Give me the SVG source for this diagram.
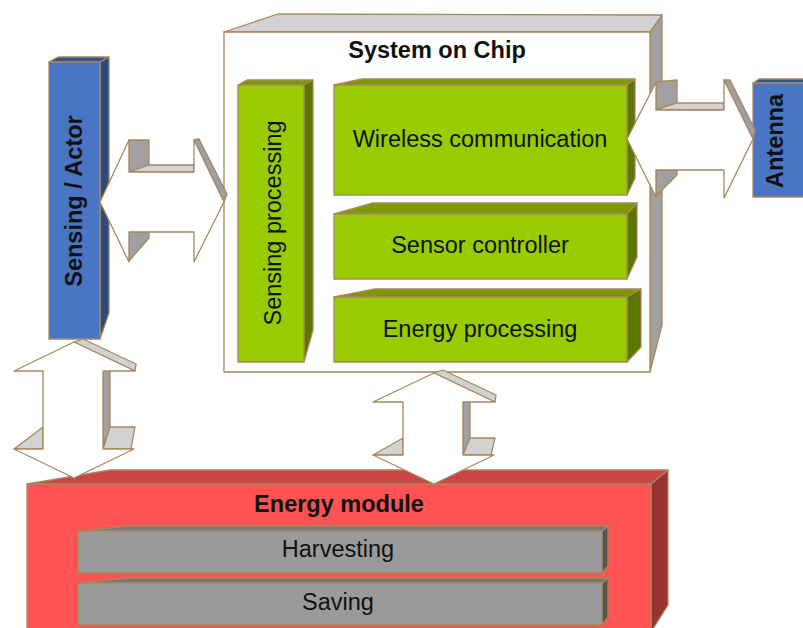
<svg xmlns="http://www.w3.org/2000/svg" width="803" height="628" viewBox="0 0 803 628">
<style>
.s{stroke:#a8875c;stroke-width:1.3;stroke-linejoin:round}
.t{font-family:"Liberation Sans",Arial,sans-serif;font-size:23.5px;fill:#111;text-anchor:middle}
.b{font-weight:bold}
.w{fill:#fff}
.dk{fill:#a0a0a0}
.lt{fill:#d2d2d2}
.gf{fill:#99cc00}.gt{fill:#7a9a00}.gs{fill:#5a7800}
.bf{fill:#4a74c4}.bt{fill:#2f5597}.bs{fill:#2a4a80}
.rf{fill:#ff5252}.rt{fill:#cc4444}.rs{fill:#993333}
.yf{fill:#9a9a9a}.yt{fill:#777}.ys{fill:#555}
</style>
<rect width="803" height="628" fill="#fff"/>
<g id="soc">
<polygon class="s lt" points="224,32 278,14 662,15 650,32"/>
<polygon class="s dk" points="650,32 662,15 662,325 650,372"/>
<rect class="s w" x="224" y="32" width="426" height="340"/>
<text class="t b" x="437" y="58">System on Chip</text>
</g>
<g id="sensing-actor">
<polygon class="s bt" points="49,62 58,57 109,57 100,62"/>
<polygon class="s bs" points="100,62 109,57 109,313 100,339"/>
<rect class="s bf" x="49" y="62" width="51" height="277"/>
<text class="t b" transform="translate(82,201) rotate(-90)">Sensing / Actor</text>
</g>
<g id="sensing-processing">
<polygon class="s gt" points="238,85 247,80 313,80 304,85"/>
<polygon class="s gs" points="304,85 313,80 313,330 304,362"/>
<rect class="s gf" x="238" y="85" width="66" height="277"/>
<text class="t" transform="translate(281,223) rotate(-90)">Sensing processing</text>
</g>
<g id="wireless">
<polygon class="s gt" points="334,85 362,79 635,79 627,85"/>
<polygon class="s gs" points="627,85 635,79 635,178 627,195"/>
<rect class="s gf" x="334" y="85" width="293" height="110"/>
<text class="t" x="480" y="147">Wireless communication</text>
</g>
<g id="sensor-controller">
<polygon class="s gt" points="334,214 373,203 637,203 627,214"/>
<polygon class="s gs" points="627,214 637,203 637,257 627,279"/>
<rect class="s gf" x="334" y="214" width="293" height="65"/>
<text class="t" x="480" y="253">Sensor controller</text>
</g>
<g id="energy-processing">
<polygon class="s gt" points="334,297 375,289 641,289 627,297"/>
<polygon class="s gs" points="627,297 641,289 641,347 627,362"/>
<rect class="s gf" x="334" y="297" width="293" height="65"/>
<text class="t" x="480" y="337">Energy processing</text>
</g>
<g id="antenna">
<polygon class="s bt" points="753,83 759,79 808,79 808,83"/>
<rect class="s bf" x="753" y="83" width="55" height="114"/>
<text class="t b" transform="translate(783,141) rotate(-90)">Antenna</text>
</g>
<g id="energy-module">
<polygon class="s rt" points="27,484 110,470 668,470 651,484"/>
<polygon class="s rs" points="651,484 668,470 668,605 651,632"/>
<rect class="s rf" x="27" y="484" width="624" height="150"/>
<text class="t b" x="339" y="512">Energy module</text>
</g>
<g id="harvesting">
<polygon class="s yt" points="78,531 130,526 608,526 602,531"/>
<polygon class="s ys" points="602,531 608,526 608,566 602,573"/>
<rect class="s yf" x="78" y="531" width="524" height="42"/>
<text class="t" x="338" y="557">Harvesting</text>
</g>
<g id="saving">
<polygon class="s yt" points="78,583 130,578 608,578 602,583"/>
<polygon class="s ys" points="602,583 608,578 608,617 602,625"/>
<rect class="s yf" x="78" y="583" width="524" height="42"/>
<text class="t" x="338" y="610">Saving</text>
</g>
<g id="connectors">
<g id="arrow-actor-soc">
<polygon class="s dk" points="129,140 149,140 149,165 129,172"/>
<polygon class="s lt" points="129,172 149,165 194,165 194,172"/>
<polygon class="s dk" points="129,232 149,232 149,238 129,261"/>
<polygon class="s dk" points="194,140 199,139 227,194 224,202"/>
<polygon class="s w" points="100,202 129,140 129,172 194,172 194,140 224,202 194,262 194,232 129,232 129,262"/>
</g>
<g id="arrow-soc-antenna">
<polygon class="s dk" points="656,82 677,80 677,103 656,110"/>
<polygon class="s lt" points="656,110 677,103 724,103 724,110"/>
<polygon class="s dk" points="656,170 677,170 677,175 656,196"/>
<polygon class="s dk" points="724,80 730,80 755,130 753,139"/>
<polygon class="s w" points="627,139 656,82 656,110 724,110 724,80 753,139 724,198 724,170 656,170 656,197"/>
</g>
<g id="arrow-actor-energy">
<polygon class="s lt" points="74,342 83,339 136,364 135,371"/>
<polygon class="s dk" points="103,371 110,369 110,427 103,449"/>
<polygon class="s lt" points="103,449 110,427 135,427 131,449"/>
<polygon class="s lt" points="14,449 43,427 43,449"/>
<polygon class="s w" points="74,342 135,371 103,371 103,449 134,449 74,478 14,449 43,449 43,371 14,371"/>
</g>
<g id="arrow-soc-energy">
<polygon class="s lt" points="434,373 443,370 496,395 495,402"/>
<polygon class="s dk" points="463,402 470,400 470,438 463,455"/>
<polygon class="s lt" points="463,455 470,438 495,438 491,455"/>
<polygon class="s lt" points="373,455 403,438 403,455"/>
<polygon class="s w" points="434,373 495,402 463,402 463,455 494,455 434,484 373,455 403,455 403,402 373,402"/>
</g>
</g>
</svg>
